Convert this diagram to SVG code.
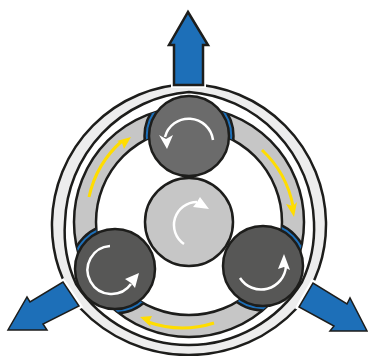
<svg xmlns="http://www.w3.org/2000/svg" width="368" height="356" viewBox="0 0 368 356">
<style>
.l{stroke:#1d1d1b;stroke-width:2.5}
.w{stroke:#fff;stroke-width:2.5;fill:none}
.wh{fill:#fff}
.y{stroke:#ffdd00;stroke-width:3;fill:none}
.yh{fill:#ffdd00}
.b{fill:#1d6fb8;stroke:#1d1d1b;stroke-width:2.5}
.t{fill:#1d6fb8;stroke:#1d1d1b;stroke-width:1.5}
.h{fill:none;stroke:#fff;stroke-width:6}
</style>
<defs>
<clipPath id="band"><path clip-rule="evenodd" d="M74 222a115 115 0 1 0 230 0a115 115 0 1 0-230 0zM96 222a93 93 0 1 0 186 0a93 93 0 1 0-186 0z"/></clipPath>
</defs>
<g id="ring">
<path d="M80 308A137 137 0 0 1 52 222A141 141 0 0 1 189 84A141 141 0 0 1 326 222A137 137 0 0 1 298 307A148 148 0 0 1 189 355A148 148 0 0 1 80 308Z" fill="#ededed" class="l"/>
<path d="M65 222A135 135 0 0 1 189 92A135 135 0 0 1 314 222A127 127 0 0 1 302 282A134 134 0 0 1 189 345A134 134 0 0 1 76 284A127 127 0 0 1 65 222Z" fill="#fff" class="l"/>
</g>
<g id="band-group">
<path fill-rule="evenodd" d="M74 222a115 115 0 1 0 230 0a115 115 0 1 0-230 0zM96 222a93 93 0 1 0 186 0a93 93 0 1 0-186 0z" fill="#c6c6c6" class="l"/>
<g clip-path="url(#band)">
<circle cx="189" cy="136" r="44.500" class="b"/>
<circle cx="115" cy="269" r="44.500" class="b"/>
<circle cx="263" cy="266" r="44.500" class="b"/>
</g>
</g>
<g id="flow">
<path d="M89 197A104 104 0 0 1 122 141" class="y"/><path d="M131 137L117 141L122 143L124 149Z" class="yh"/>
<path d="M262 150A104 104 0 0 1 293 206" class="y"/><path d="M294 217L286 204L293 206L297 202Z" class="yh"/>
<path d="M214 323A104 104 0 0 1 148 322" class="y"/><path d="M140 317L152 316L149 322L151 327Z" class="yh"/>
</g>
<g id="arrow-top"><path d="M188 12L208 45H203V85H174V45H169Z" class="h"/><path d="M188 12L208 45H203V85H174V45H169Z" class="b"/></g>
<g id="arrow-left"><path d="M8 330H47L43 324L79 306L63 282L30 302L27 297Z" class="h"/><path d="M8 330H47L43 324L79 306L63 282L30 302L27 297Z" class="t"/></g>
<g id="arrow-right"><path d="M367 331H330L334 326L299 307L313 283L347 304L350 298Z" class="h"/><path d="M367 331H330L334 326L299 307L313 283L347 304L350 298Z" class="t"/></g>
<g id="sun"><circle cx="189" cy="222" r="44" fill="#c6c6c6" class="l"/>
<path d="M184 244A23 23 0 0 1 197 202" class="w"/><path d="M209 209L200 197L197 202L193 207Z" class="wh"/></g>
<g id="roller-top"><circle cx="189" cy="136" r="40" fill="#6b6b6b" class="l"/>
<path d="M213 140A24.500 24.500 0 0 0 165 137" class="w"/><path d="M167 149L159 135L166 139L173 135Z" class="wh"/></g>
<g id="roller-left"><circle cx="115" cy="269" r="40" fill="#575756" class="l"/>
<path d="M110 246A24 24 0 1 0 131 284" class="w"/><path d="M139 273L125 279L131 283L135 288Z" class="wh"/></g>
<g id="roller-right"><circle cx="263" cy="266" r="40" fill="#575756" class="l"/>
<path d="M240 278A25 25 0 0 0 286 266" class="w"/><path d="M284 254L278 269L284 267L290 270Z" class="wh"/></g>
</svg>
